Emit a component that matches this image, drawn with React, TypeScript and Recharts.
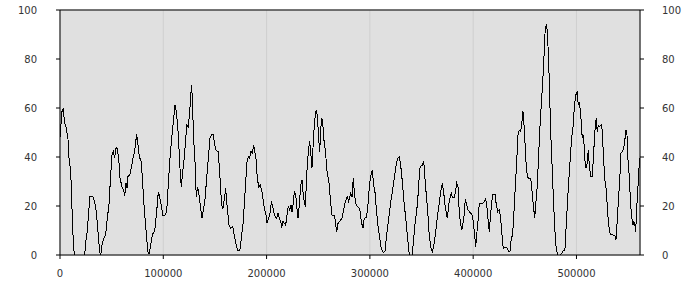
import { CartesianGrid, Line, LineChart, ReferenceLine, XAxis, YAxis } from 'recharts';

const positions = [
  0, 1900, 3200, 4200, 6100, 7700, 8700, 10400, 11600, 12600, 13800, 23900, 24900, 26400, 27800, 29000,
  31900, 33600, 35100, 36800, 38400, 39400, 40700, 42300, 44200, 45800, 47400, 48700, 50300, 51600, 53000,
  53900, 55200, 56800, 58100, 60000, 61700, 62600, 63900, 64900, 65800, 67500, 69000, 70700, 72300, 73300,
  74300, 75500, 76800, 78700, 80100, 81300, 82600, 83900, 85200, 86200, 87800, 89400, 91000, 92000, 93600,
  95200, 96500, 98500, 99400, 101600, 103300, 104800, 106500, 108100, 109700, 111300, 112600, 113900,
  115200, 116500, 117400, 118800, 120300, 121700, 122900, 124200, 125600, 126500, 127500, 128500, 129400,
  130700, 131900, 133300, 134600, 136200, 137500, 139100, 140400, 142000, 143600, 145200, 146900, 148100,
  149400, 150700, 153200, 154900, 156500, 157800, 159100, 160400, 161700, 163600, 165200, 167200, 168700,
  170100, 172000, 174200, 175900, 177100, 178400, 179800, 181000, 182300, 183600, 184900, 186200, 187500,
  188500, 189700, 191000, 192400, 193900, 195500, 196500, 197800, 199400, 200400, 202000, 203600, 204600,
  205900, 207200, 208400, 209800, 211000, 212300, 213700, 214600, 215900, 217100, 218500, 219700, 221000,
  222400, 223600, 224600, 225800, 226800, 228200, 229100, 230400, 231700, 233000, 234300, 235200, 236500,
  237500, 238400, 239400, 240700, 241700, 242700, 243900, 244900, 246200, 247500, 248500, 249500, 250400,
  251400, 252400, 253300, 254300, 255300, 256200, 257500, 258800, 260100, 261400, 262300, 263300, 265900,
  266900, 267900, 269100, 271000, 273000, 274300, 275600, 276900, 278100, 279500, 281400, 282700, 283900,
  285300, 286800, 288500, 290100, 291700, 293300, 294600, 296500, 297900, 299100, 300400, 302300, 303700,
  304900, 306200, 307800, 309500, 311000, 313000, 314600, 315900, 317800, 319800, 321700, 323600, 325600,
  327200, 328500, 329800, 331400, 333000, 334700, 336200, 337800, 338800, 341000, 342400, 343700, 345300,
  346900, 348200, 349500, 350700, 352100, 353300, 354600, 356000, 357200, 358900, 360400, 362000, 363700,
  365200, 366900, 368500, 370100, 371400, 372700, 374000, 375000, 376300, 377500, 378800, 380100, 381400,
  382700, 384000, 385300, 386500, 387900, 389100, 390400, 391700, 392300, 393700, 395000, 396200, 397600,
  398800, 400100, 401400, 402400, 403700, 404900, 405900, 407500, 409200, 410700, 412100, 413100, 414300,
  415600, 416600, 417900, 419200, 421100, 422400, 423700, 425300, 426600, 427900, 429100, 430500, 432400,
  434400, 435600, 436900, 438200, 439500, 440800, 442100, 443400, 444600, 446000, 447200, 448200, 449200,
  450100, 451100, 452400, 453700, 455000, 456200, 457600, 458900, 459500, 460800, 462100, 463400, 464600,
  465900, 467300, 468500, 469800, 471200, 472100, 473100, 474100, 475300, 476600, 477900, 479200, 480400,
  481800, 484300, 485700, 486900, 488800, 490100, 491500, 492700, 494000, 495300, 496600, 497900, 498800,
  499800, 500800, 501700, 502700, 503700, 504600, 505600, 506600, 507600, 508500, 509500, 510500, 511400,
  512400, 513800, 515300, 516700, 517600, 518600, 519200, 520100, 521100, 522400, 524000, 524900, 525900,
  527300, 528500, 529800, 530800, 532100, 533400, 535300, 537200, 538200, 539200, 540500, 541800, 543100,
  544400, 545700, 547000, 547900, 548900, 549800, 550800, 551800, 552700, 553700, 554700, 555600, 556600,
  557300, 558300, 559300, 560200, 561500,
];

const values = [
  48, 58.5, 60, 54.4, 51.7, 47.6, 39.5, 34, 19, 8, 0, 0, 5.4, 9.5, 17.7, 23.8,
  23.8, 21.8, 17.7, 9.5, 1.3, 0, 4, 6.8, 8.2, 15, 20.4, 30, 40.8, 42.2, 39.5,
  43.5, 43.8, 39.5, 31.3, 27.9, 26.5, 24.2, 29.3, 27.2, 32, 32.7, 35.4, 39.5, 42.2, 46.3,
  49.3, 44.9, 40.1, 38, 28.6, 20.4, 13.6, 6.8, 1.3, 0.5, 4, 8.2, 9.5, 10.9, 17.7,
  25.8, 23.8, 19, 16.3, 16.3, 17.7, 28.6, 39.5, 47.6, 54.4, 61.2, 58.5, 53,
  43.5, 32.7, 27.9, 34, 39.5, 47.6, 53, 52.4, 58.5, 65.3, 69.4, 58.5, 47.6,
  38, 23.8, 27.9, 24.5, 19, 15, 19, 23, 31.3, 39.5, 47.6, 49, 49.3,
  46.3, 42.9, 42.2, 31.3, 20.4, 19, 23, 27.2, 20.4, 12.2, 10.9, 11.6, 8.2,
  4.8, 2, 2, 8.2, 12.2, 20.4, 30, 38, 40.1, 39.5, 42.2, 41.5, 45,
  42.2, 39.5, 31.3, 27.9, 28.6, 25.8, 23, 19, 16.3, 12.9, 15, 17.7, 21.8,
  19.7, 17, 15.6, 15, 17, 15, 13.6, 11.2, 13.9, 12.9, 12.2, 16.3, 19.7,
  18.4, 20.4, 17.7, 21, 25.8, 24.5, 20.4, 15, 20.4, 28.6, 30.6, 25.8, 21.8,
  19.7, 28.6, 36.7, 43.5, 46.3, 42.2, 35.4, 43.5, 53, 58.5, 58.8, 54.4, 47.6,
  42.2, 51, 56, 54.4, 47.6, 45, 39.5, 32.7, 31.3, 24.5, 20.4, 16.3, 16,
  12.2, 9.5, 12.9, 13.9, 15, 17.7, 21, 22.4, 23.8, 21.8, 25.2, 23.8, 31.3,
  23.8, 20.4, 19.7, 19, 13.6, 10.9, 15, 15.2, 19, 25.8, 31.3, 34.7, 28.6,
  25.8, 19, 12.2, 6.8, 2.7, 1.1, 1.4, 6.8, 13.6, 20.4, 25.8, 31.3, 37.4,
  39.5, 40.1, 36.7, 30, 21.8, 15, 8.2, 1.4, 0, 0, 6.8, 12.9, 17.7,
  25.8, 35.4, 36.4, 36.7, 38.4, 31.3, 24.5, 17.7, 9.5, 3.3, 1.4, 4, 9.5,
  15, 20.4, 25.8, 29.3, 25.8, 20.4, 17, 15, 20.4, 23, 25.2, 23.4, 23.4,
  25.2, 29.3, 27.9, 17.7, 12.2, 10.2, 13.6, 17.7, 23, 20.4, 18.4, 17.7, 17,
  16.6, 13.6, 8.2, 3.3, 9.5, 15, 21, 21, 21, 21.8, 23, 20.4, 15,
  9.5, 15, 21.8, 24.8, 24.8, 20.4, 17.7, 18.4, 15, 8.2, 2.7, 3, 3,
  1.6, 1.4, 6.8, 8.2, 17.7, 27.9, 38, 49, 51, 50.3, 54.4, 58.8, 53,
  46.3, 38, 32, 31.3, 31.3, 30, 23, 17.7, 15, 21.8, 28.6, 40.8, 52,
  61.2, 70.7, 80.3, 92.8, 94.2, 88.4, 78.9, 64, 47.6, 34, 20.4, 9.5, 2.7,
  0, 0, 0.7, 1.6, 2, 12.2, 23, 31.3, 39.5, 47.6, 51.7, 59.9, 64,
  66, 66.9, 61.2, 62.6, 59.2, 54.4, 47.6, 49, 43.5, 36.7, 35.4, 38, 42.9,
  36.7, 32, 32, 42.2, 49, 54.4, 56, 50.3, 53, 52.4, 53, 51, 42.2,
  31.3, 27.9, 20.4, 13.6, 9.5, 8.2, 8.2, 8, 6.1, 12.2, 21.8, 30, 41.5,
  42.2, 43.5, 47.6, 51, 49, 39.5, 34, 25.8, 19, 15, 12.2, 13.6, 12.2,
  9.5, 19, 25.8, 34, 39.5,
];

const xTicks = [0, 100000, 200000, 300000, 400000, 500000];
const yTicks = [0, 20, 40, 60, 80, 100];

const data = positions.map((x, i) => ({ x, value: values[i] }));

const tickStyle = { fontSize: 10, fill: '#333', fontFamily: '"DejaVu Sans", sans-serif' };

export default function App() {
  return (
    <div style={{ position: 'absolute', left: 0, top: 0, background: '#fff' }}>
      <LineChart width={700} height={300} data={data} margin={{ top: 10, right: 0, bottom: 0, left: 0 }}>
        <CartesianGrid fill="#e0e0e0" stroke="#cfcfcf" strokeWidth={1} />
        <XAxis
          dataKey="x"
          type="number"
          domain={[0, 561500]}
          ticks={xTicks}
          height={45}
          tickSize={4}
          tickMargin={11}
          tick={tickStyle}
          axisLine={{ stroke: '#000' }}
          tickLine={{ stroke: '#000' }}
          allowDataOverflow
        />
        <YAxis
          yAxisId="left"
          domain={[0, 100]}
          ticks={yTicks}
          width={60}
          tickSize={4}
          tickMargin={19}
          tick={tickStyle}
          axisLine={{ stroke: '#000' }}
          tickLine={{ stroke: '#000' }}
          allowDataOverflow
        />
        <YAxis
          yAxisId="right"
          orientation="right"
          domain={[0, 100]}
          ticks={yTicks}
          width={60}
          tickSize={4}
          tickMargin={18}
          tick={tickStyle}
          axisLine={{ stroke: '#000' }}
          tickLine={{ stroke: '#000' }}
          allowDataOverflow
        />
        <ReferenceLine yAxisId="left" y={100} stroke="#000" />
        <Line
          yAxisId="left"
          type="linear"
          dataKey="value"
          stroke="#000"
          strokeWidth={1}
          dot={false}
          shapeRendering="crispEdges"
          isAnimationActive={false}
        />
      </LineChart>
    </div>
  );
}
